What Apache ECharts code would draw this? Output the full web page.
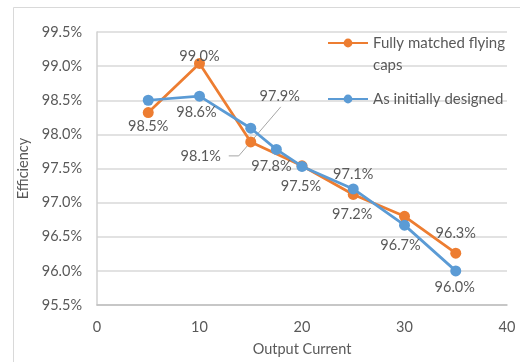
<!DOCTYPE html>
<html>
<head>
<meta charset="utf-8">
<script src="https://cdn.jsdelivr.net/npm/echarts@6/dist/echarts.min.js"></script>
<style>
  html, body { margin: 0; padding: 0; background: #fff; }
  #chart { width: 520px; height: 362px; }
</style>
</head>
<body>
<div id="chart"></div>
<script>
// Efficiency vs output current for two flying-capacitor configurations
const outputCurrent = [5, 10, 15, 17.5, 20, 25, 30, 35];
const matchedX = [5, 10, 15, 20, 25, 30, 35];
const matchedEff = [98.32, 99.04, 97.89, 97.54, 97.12, 96.80, 96.26];
const initialEff = [98.50, 98.56, 98.09, 97.78, 97.53, 97.20, 96.67, 96.00];
const xTicks = [0, 10, 20, 30, 40];
const yTicks = [95.5, 96.0, 96.5, 97.0, 97.5, 98.0, 98.5, 99.0, 99.5];

const seriesNames = ['Fully matched flying caps', 'As initially designed'];

// Per-point label placement: null hides the label
const matchedLabels = [
  null,
  { position: 'inside', offset: [0, -7] },
  { position: 'inside', offset: [29, -46] },
  null,
  { position: 'inside', offset: [0, -20] },
  null,
  { position: 'inside', offset: [0, -20] }
];
const initialLabels = [
  { position: 'inside', offset: [0, 26] },
  { position: 'bottom', offset: [-3, -2] },
  { position: 'inside', offset: [-50, 28] },
  { position: 'inside', offset: [-5, 17] },
  { position: 'bottom', offset: [-1, 2] },
  { position: 'inside', offset: [-1, 25] },
  { position: 'bottom', offset: [-4, 2] },
  { position: 'bottom', offset: [-1, -2] }
];

const FONT = 'Lato, "Open Sans", sans-serif';
const TEXT = '#595959';

function buildData(xs, ys, labels) {
  return xs.map((x, i) => {
    const item = { value: [x, ys[i]] };
    const l = labels[i];
    item.label = l ? { show: true, position: l.position, offset: l.offset } : { show: false };
    return item;
  });
}

const chart = echarts.init(document.getElementById('chart'), null, { renderer: 'canvas' });

const labelStyle = {
  color: TEXT,
  fontFamily: FONT,
  fontSize: 14.5,
  formatter: p => p.value[1].toFixed(1) + '%'
};

chart.setOption({
  animation: false,
  backgroundColor: '#fff',
  graphic: [{
    type: 'rect',
    shape: { x: 13.5, y: 7.5, width: 520, height: 400 },
    style: { fill: 'none', stroke: '#D9D9D9', lineWidth: 1 },
    silent: true,
    z: -10
  }],
  grid: { left: 97, right: 13, top: 32, bottom: 54 },
  legend: [{
    data: [seriesNames[0]],
    left: 327, top: 10,
    padding: 0,
    itemWidth: 40, itemHeight: 11,
    // blank first line keeps the icon level with the first text line
    formatter: () => '\nFully matched flying\ncaps',
    textStyle: { color: TEXT, fontFamily: FONT, fontSize: 15, lineHeight: 22 }
  }, {
    data: [seriesNames[1]],
    left: 327, top: 88,
    padding: 0,
    itemWidth: 40, itemHeight: 11,
    textStyle: { color: TEXT, fontFamily: FONT, fontSize: 15, lineHeight: 22 }
  }],
  xAxis: {
    type: 'value',
    min: xTicks[0], max: xTicks[xTicks.length - 1], interval: 10,
    name: 'Output Current',
    nameLocation: 'middle',
    nameGap: 37,
    nameTextStyle: { color: TEXT, fontFamily: FONT, fontSize: 14.5 },
    axisLine: { show: true, lineStyle: { color: '#BFBFBF', width: 1.5 } },
    axisTick: { show: false },
    splitLine: { show: false },
    axisLabel: { color: TEXT, fontFamily: FONT, fontSize: 14.5, margin: 15 }
  },
  yAxis: {
    type: 'value',
    min: yTicks[0], max: yTicks[yTicks.length - 1], interval: 0.5,
    name: 'Efficiency',
    nameLocation: 'middle',
    nameGap: 62,
    nameTextStyle: { color: TEXT, fontFamily: FONT, fontSize: 14.5 },
    axisLine: { show: true, lineStyle: { color: '#D0D0D0', width: 1.5 } },
    axisTick: { show: false },
    splitLine: { show: true, lineStyle: { color: '#D9D9D9', width: 1.5 } },
    axisLabel: {
      color: TEXT, fontFamily: FONT, fontSize: 14.5, margin: 15,
      formatter: v => v.toFixed(1) + '%'
    }
  },
  series: [{
    name: seriesNames[0],
    type: 'line',
    color: '#ED7D31',
    symbol: 'circle',
    symbolSize: 11,
    lineStyle: { width: 2.75 },
    label: labelStyle,
    data: buildData(matchedX, matchedEff, matchedLabels),
    z: 2
  }, {
    name: seriesNames[1],
    type: 'line',
    color: '#5B9BD5',
    symbol: 'circle',
    symbolSize: 11,
    lineStyle: { width: 2.75 },
    label: labelStyle,
    data: buildData(outputCurrent, initialEff, initialLabels),
    z: 3
  }]
});

// Leader line joining the two displaced labels at 15 A, anchored on the plotted point
const anchor = chart.convertToPixel({ gridIndex: 0 }, [matchedX[2], matchedEff[2]]);
chart.setOption({
  graphic: [{
    type: 'rect',
    shape: { x: 13.5, y: 7.5, width: 520, height: 400 },
    style: { fill: 'none', stroke: '#D9D9D9', lineWidth: 1 },
    silent: true,
    z: -10
  }, {
    type: 'polyline',
    shape: {
      points: [
        [anchor[0] - 22, anchor[1] + 14],
        [anchor[0] - 12, anchor[1] + 14],
        [anchor[0] + 30, anchor[1] - 35]
      ]
    },
    style: { stroke: '#A6A6A6', lineWidth: 1, fill: 'none' },
    silent: true,
    z: 1
  }]
});
</script>
</body>
</html>
